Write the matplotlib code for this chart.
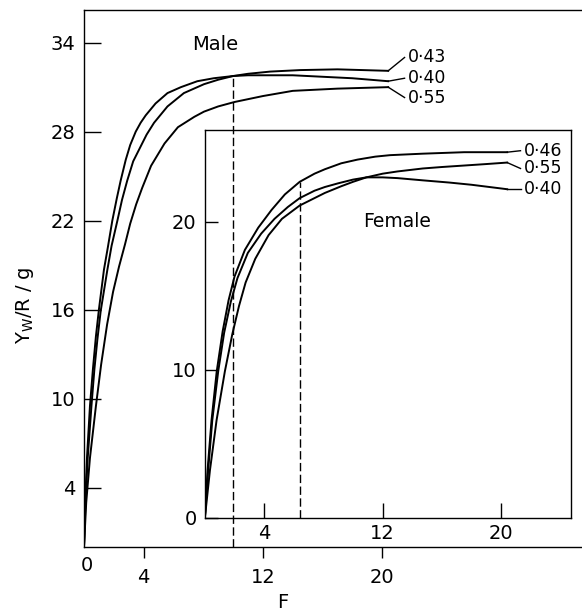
import numpy as np
import matplotlib
from matplotlib import pyplot as plt

matplotlib.use("Agg")
plt.rcParams['font.family'] = ['DejaVu Sans']

# Male curves (main axes), F vs Y_W/R
male_labels = ['0·43', '0·40', '0·55']
male_f_043 = [0, 0.08, 0.2, 0.4, 0.6, 0.8, 1.0, 1.34, 1.6, 1.9, 2.2, 2.46, 2.8, 3.1, 3.47, 3.8,
              4.14, 4.8, 5.6, 6.5, 7.6, 8.7, 10.0, 11.0, 12.5, 14.5, 17.0, 20.4]
male_y_043 = [0, 3, 6, 9.5, 12.0, 14.2, 16.0, 18.7, 20.2, 22.0, 23.5, 24.7, 26.1, 27.1, 28.0, 28.6,
              29.1, 29.9, 30.6, 31.0, 31.4, 31.6, 31.75, 31.9, 32.05, 32.15, 32.2, 32.1]
male_f_040 = [0, 0.1, 0.25, 0.5, 0.7, 0.9, 1.12, 1.57, 1.85, 2.24, 2.55, 2.9, 3.3, 3.8, 4.2, 4.7,
              5.6, 6.7, 8.05, 9.0, 10.0, 11.0, 12.5, 14.0, 16.0, 18.0, 20.4]
male_y_040 = [0, 3, 6, 9.5, 12.0, 14.0, 15.9, 18.7, 20.3, 22.0, 23.4, 24.7, 26.0, 27.0, 27.8, 28.6,
              29.7, 30.6, 31.2, 31.5, 31.75, 31.8, 31.8, 31.8, 31.7, 31.6, 31.4]
male_f_055 = [0, 0.15, 0.4, 0.8, 1.15, 1.55, 1.95, 2.35, 2.75, 3.1, 3.5, 3.9, 4.5, 5.4, 6.3, 7.4,
              8.05, 9.0, 10.1, 12.0, 14.0, 17.0, 20.4]
male_y_055 = [0, 3, 6, 9.5, 12.3, 15.0, 17.2, 18.9, 20.4, 21.8, 23.1, 24.2, 25.7, 27.2, 28.3, 29.0,
              29.35, 29.7, 30.0, 30.4, 30.75, 30.9, 31.0]
male_label_y = [33.0, 31.6, 30.3]

# Female curves (inset axes)
female_labels = ['0·46', '0·55', '0·40']
fem_f_046 = [0, 0.18, 0.45, 0.8, 1.2, 1.6, 2.0, 2.7, 3.6, 4.5, 5.4, 6.4, 7.4, 8.1, 9.2, 10.3,
             11.5, 12.5, 14.7, 17.5, 20.4]
fem_y_046 = [0, 3.2, 6.6, 9.9, 12.6, 14.7, 16.3, 18.1, 19.6, 20.8, 21.85, 22.7, 23.25, 23.55, 23.95, 24.2,
             24.4, 24.5, 24.6, 24.7, 24.7]
fem_f_055 = [0, 0.34, 0.79, 1.35, 1.85, 2.3, 2.75, 3.4, 4.3, 5.2, 6.4, 7.4, 8.1, 9.2, 10.0, 10.9,
             12.0, 13.0, 14.7, 16.0, 17.5, 19.0, 20.4]
fem_y_055 = [0, 3.2, 6.6, 9.9, 12.4, 14.3, 15.9, 17.5, 19.1, 20.2, 21.1, 21.6, 21.95, 22.4, 22.7, 23.0,
             23.25, 23.4, 23.6, 23.7, 23.8, 23.9, 24.0]
fem_f_040 = [0, 0.22, 0.5, 0.9, 1.3, 1.75, 2.2, 2.9, 3.8, 4.7, 5.6, 6.4, 7.4, 8.1, 9.0, 10.0,
             10.9, 12.0, 13.0, 14.7, 16.5, 18.0, 20.4]
fem_y_040 = [0, 3.2, 6.6, 9.9, 12.5, 14.6, 16.2, 17.9, 19.2, 20.2, 21.0, 21.6, 22.1, 22.35, 22.6, 22.85,
             23.0, 23.0, 22.95, 22.8, 22.65, 22.5, 22.2]
female_label_y = [24.8, 23.6, 22.2]

# optimum F marked by the dashed lines
male_cut_f, male_cut_y = 10.0, 31.75
fem_cut_f, fem_cut_y = 6.4, 22.7

fig = plt.figure(figsize=(5.82, 6.14), dpi=100)

ax = fig.add_axes([0.1443, 0.1091, 0.8557, 0.8746])
ax.set_xlim(0, 33.4)
ax.set_ylim(0, 36.2)
ax.spines['right'].set_visible(False)
for s in ax.spines.values():
    s.set_linewidth(1.0)

lw = 1.4
male_f = [male_f_043, male_f_040, male_f_055]
male_y = [male_y_043, male_y_040, male_y_055]
for f, y, lab, ty in zip(male_f, male_y, male_labels, male_label_y):
    ax.plot(f, y, color='black', lw=lw, solid_joinstyle='round')
    ax.plot([f[-1], 21.5], [y[-1], ty], color='black', lw=1.0)
    ax.text(21.7, ty, lab, fontsize=12.5, ha='left', va='center')

ax.plot([male_cut_f, male_cut_f], [0, male_cut_y], color='black', lw=1.0,
        dashes=(6, 2.5))

ax.text(8.8, 33.9, 'Male', fontsize=14, ha='center', va='center')

ax.set_xticks([4, 12, 20])
ax.set_yticks([4, 10, 16, 22, 28, 34])
ax.tick_params(axis='x', direction='out', length=8, width=1.0, labelsize=14, pad=7)
ax.tick_params(axis='y', direction='in', length=12, width=1.0, labelsize=14, pad=6)
ax.annotate('0', xy=(0, 0), xycoords=('data', 'axes fraction'), xytext=(2, -13),
            textcoords='offset points', fontsize=14, ha='center', va='center')

# inset for females
ins = fig.add_axes([0.352, 0.1564, 0.6289, 0.6319])
ins.set_facecolor('none')
ins.set_xlim(0, 24.7)
ins.set_ylim(0, 26.2)
for s in ins.spines.values():
    s.set_linewidth(1.0)

fem_f = [fem_f_046, fem_f_055, fem_f_040]
fem_y = [fem_y_046, fem_y_055, fem_y_040]
for f, y, lab, ty in zip(fem_f, fem_y, female_labels, female_label_y):
    ins.plot(f, y, color='black', lw=lw, solid_joinstyle='round')
    ins.plot([f[-1], 21.3], [y[-1], ty], color='black', lw=1.0)
    ins.text(21.5, ty, lab, fontsize=12.5, ha='left', va='center')

ins.plot([fem_cut_f, fem_cut_f], [0, fem_cut_y], color='black', lw=1.0,
         dashes=(6, 2.5))

ins.text(13.0, 20.0, 'Female', fontsize=13.5, ha='center', va='center')

ins.set_xticks([4, 12, 20])
ins.set_yticks([0, 10, 20])
ins.tick_params(axis='x', direction='in', length=11, width=1.0, labelsize=14, pad=4)
ins.tick_params(axis='y', direction='in', length=9.5, width=1.0, labelsize=14, pad=6)

fig.text(25 / 582, 1 - 305 / 614, r'Y$_\mathregular{W}$/R / g', rotation=90,
         fontsize=14, ha='center', va='center')
fig.text(283 / 582, 1 - 603 / 614, 'F', fontsize=14, ha='center', va='center')

fig.savefig('out.png', dpi=100)
